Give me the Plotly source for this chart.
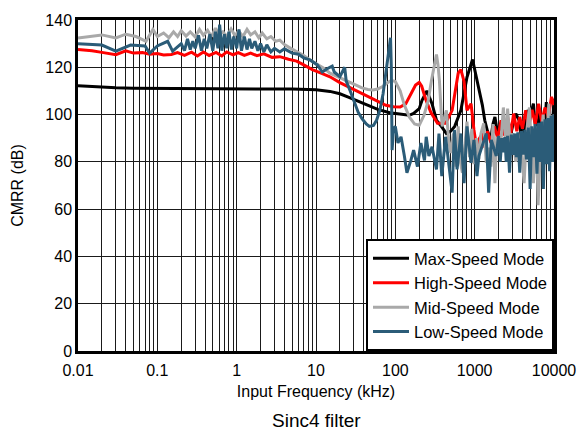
import plotly.graph_objects as go

# ---------------- data ----------------
series_names = ["Max-Speed Mode", "High-Speed Mode", "Mid-Speed Mode", "Low-Speed Mode"]

max_f = [0.01, 0.015, 0.02, 0.03, 0.05, 0.1, 0.2, 0.5, 1, 2, 5, 7, 10, 15, 20, 26, 35, 47, 60, 85, 110,
         150, 170, 200, 217, 250, 290, 330, 380, 440, 500, 560, 670, 800, 940, 1050, 1130, 1250, 1340,
         1450, 1590, 1700, 1800, 1950, 2100, 2300, 2500, 2700, 3000, 3300, 3700, 4000, 4500, 5000,
         5500, 6000, 6600, 7200, 8000, 9000, 10000]
max_v = [112.2, 111.8, 111.5, 111.3, 111.1, 111.0, 110.9, 110.9, 110.8, 110.8, 110.8, 110.7, 110.5,
         109.8, 108.8, 107.3, 105.5, 103.5, 102.2, 100.8, 100.2, 99.7, 100.5, 102.5, 106.0, 110.0, 104.6,
         97.6, 95.0, 92.0, 93.0, 95.0, 101.8, 115.8, 123.3, 115.8, 111.7, 104.0, 97.6, 93.0, 89.3,
         96.0, 99.0, 92.0, 94.9, 98.0, 96.0, 88.0, 95.0, 100.4, 97.0, 85.0, 101.8, 99.0, 104.6, 90.0,
         102.0, 78.0, 105.3, 80.0, 106.7]

high_f = [0.01, 0.015, 0.02, 0.03, 0.04, 0.05, 0.065, 0.08, 0.1, 0.12, 0.15, 0.18, 0.22, 0.27, 0.32,
          0.38, 0.45, 0.55, 0.65, 0.75, 0.9, 1.05, 1.25, 1.5, 1.8, 2.2, 2.8, 3.5, 4.5, 5.7, 7, 9, 12,
          15, 20, 26, 35, 47, 60, 76, 95, 115, 135, 157, 180, 200, 215, 240, 280, 340, 430, 520, 570,
          620, 670, 735, 800, 900, 980, 1070, 1150, 1250, 1350, 1450, 1600, 1770, 1950, 2150, 2400,
          2600, 2850, 3100, 3400, 3700, 4000, 4400, 4800, 5300, 5800, 6400, 7000, 7700, 8500, 9300,
          10000]
high_v = [127.5, 127.0, 126.3, 125.3, 127.0, 126.0, 126.2, 125.5, 125.8, 125.2, 125.4, 126.2, 125.0,
          126.4, 124.8, 126.5, 125.0, 126.3, 124.8, 126.5, 125.3, 126.2, 125.0, 126.0, 124.9, 125.7,
          124.2, 124.5, 123.4, 122.6, 121.0, 119.0, 117.3, 116.0, 113.5, 111.6, 109.5, 107.4, 105.5,
          103.9, 103.3, 103.2, 104.5, 108.8, 112.5, 113.6, 112.0, 106.7, 101.0, 96.3, 96.3, 101.8,
          110.0, 117.5, 119.0, 114.0, 101.8, 104.6, 93.5, 85.0, 90.0, 92.0, 86.0, 93.0, 88.0, 95.0,
          90.0, 97.6, 91.0, 99.0, 92.0, 100.4, 93.0, 99.0, 94.0, 101.8, 95.0, 102.0, 96.0, 104.6,
          97.0, 103.0, 99.0, 107.5, 104.0]

mid_f = [0.01, 0.02, 0.03, 0.04, 0.054, 0.072, 0.088, 0.1, 0.12, 0.14, 0.16, 0.18, 0.2, 0.23, 0.26,
         0.3, 0.34, 0.38, 0.43, 0.48, 0.54, 0.6, 0.67, 0.75, 0.85, 0.95, 1.06, 1.2, 1.35, 1.5, 1.7,
         1.9, 2.1, 2.4, 2.7, 3.1, 3.5, 4, 4.8, 5.8, 7, 8.5, 10, 12.7, 15, 20, 26, 32, 38, 45, 52, 60,
         70, 80, 89, 100, 115, 130, 150, 175, 200, 230, 260, 285, 310, 330, 345, 360, 380, 390, 410,
         440, 470, 500, 540, 580, 620, 660, 700, 750, 800, 860, 920, 980, 1050, 1130, 1200, 1300,
         1400, 1500, 1600, 1700, 1800, 1900, 2100, 2300, 2500, 2600, 2800, 3000, 3300, 3600, 3900,
         4200, 4500, 4900, 5200, 5500, 6000, 6300, 6800, 7300, 7800, 8300, 8600, 9200, 10000]
mid_v = [132.4, 133.7, 132.4, 134.0, 133.0, 131.0, 136.0, 133.0, 134.5, 132.5, 135.0, 133.0, 135.5,
         133.2, 135.0, 132.8, 136.0, 133.5, 135.6, 133.0, 136.5, 133.8, 135.0, 133.0, 136.2, 133.5,
         135.3, 133.0, 136.0, 133.7, 135.0, 132.5, 134.5, 132.0, 133.0, 131.0, 131.5, 129.6, 128.0,
         126.5, 125.0, 123.0, 121.5, 119.5, 117.5, 115.5, 113.7, 112.3, 111.3, 110.6, 110.4, 110.8,
         112.0, 113.5, 114.5, 114.0, 110.0, 104.0, 99.0, 96.0, 95.5, 99.7, 106.0, 114.3, 121.0, 125.4,
         121.0, 114.0, 100.0, 95.0, 98.0, 101.8, 89.3, 83.7, 92.0, 78.0, 95.0, 80.0, 75.4, 88.0, 97.0,
         82.0, 94.0, 79.0, 90.0, 81.0, 92.0, 96.3, 79.6, 86.0, 78.0, 96.0, 71.0, 90.6, 84.0, 103.0,
         86.0, 102.5, 88.0, 92.0, 80.0, 90.0, 85.0, 71.0, 92.0, 103.0, 85.0, 71.0, 95.0, 61.7, 88.0,
         100.0, 80.0, 97.0, 104.6, 85.0, 100.0]

low_f = [0.01, 0.02, 0.03, 0.046, 0.07, 0.08, 0.1, 0.135, 0.156, 0.18, 0.2, 0.22, 0.24, 0.26, 0.28,
         0.3, 0.33, 0.36, 0.39, 0.42, 0.46, 0.5, 0.54, 0.58, 0.61, 0.65, 0.7, 0.75, 0.8, 0.86, 0.92,
         1, 1.07, 1.15, 1.25, 1.35, 1.45, 1.55, 1.7, 1.85, 2, 2.2, 2.4, 2.7, 3, 3.5, 4, 5, 6, 7, 8.5,
         10.4, 12, 14, 16, 17, 20, 23, 24, 27, 30, 34, 38, 43, 47, 53, 58, 64, 70, 78, 84, 87, 89, 91,
         95, 100, 108, 118, 130, 140, 157, 170, 190, 210, 233, 245, 265, 290, 330, 355, 385, 430, 470,
         520, 555, 600, 670, 735, 800, 900, 980, 1070, 1130, 1250, 1400, 1500, 1620, 1870, 2000, 2100,
         2200, 2300, 2400, 2500, 2600, 2750, 2900, 3050, 3200, 3350, 3500, 3700, 3900, 4100, 4300,
         4500, 4750, 5000, 5250, 5500, 5800, 6100, 6400, 6700, 7000, 7350, 7700, 8050, 8400, 8800,
         9200, 9600, 10000]
low_v = [130.0, 129.4, 126.8, 129.4, 129.0, 126.0, 129.0, 131.0, 126.8, 128.5, 130.0, 127.0, 132.0,
         127.5, 131.0, 128.0, 133.5, 127.0, 132.0, 128.0, 134.0, 127.0, 135.0, 128.0, 138.0, 127.0,
         134.0, 128.0, 135.0, 127.5, 133.0, 128.0, 136.0, 127.0, 133.0, 127.5, 132.0, 128.0, 131.0,
         127.0, 130.0, 126.5, 129.5, 126.5, 128.0, 126.5, 127.8, 126.0, 125.5, 124.0, 123.0, 121.0,
         118.0, 119.5, 120.5, 118.0, 116.0, 120.0, 114.3, 110.0, 106.0, 101.0, 98.3, 96.0, 95.0, 95.4,
         97.6, 102.0, 108.7, 121.0, 130.0, 132.5, 120.0, 85.0, 94.0, 95.0, 88.0, 90.6, 82.5, 75.4,
         80.6, 85.0, 78.0, 88.0, 80.6, 90.6, 82.5, 86.4, 76.8, 92.0, 74.0, 90.6, 79.6, 67.0, 93.5,
         76.8, 92.0, 71.0, 95.0, 79.6, 89.3, 74.0, 82.5, 86.6, 92.0, 67.0, 89.3, 82.5, 91.0, 80.0,
         90.0, 84.0, 90.5, 80.0, 91.0, 75.4, 91.5, 83.0, 92.0, 82.0, 92.5, 75.4, 93.0, 83.0, 93.5,
         81.0, 94.5, 68.5, 95.0, 82.0, 96.0, 75.0, 96.5, 80.0, 97.0, 68.5, 98.0, 79.0, 98.5, 76.0,
         99.5, 80.0, 100.0, 78.0, 101.5]

x_ticks = [0.01, 0.1, 1, 10, 100, 1000, 10000]
x_tick_text = ["0.01", "0.1", "1", "10", "100", "1000", "10000"]
y_ticks = [0, 20, 40, 60, 80, 100, 120, 140]

colors = ["#000000", "#FF0000", "#A9A9A9", "#2B5C78"]
xs = [max_f, high_f, mid_f, low_f]
ys = [max_v, high_v, mid_v, low_v]

fig = go.Figure()
for name, c, x, y in zip(series_names, colors, xs, ys):
    fig.add_trace(go.Scatter(x=x, y=y, mode="lines", name=name,
                             line=dict(color=c, width=3)))

font_family = "Liberation Sans, Arial, sans-serif"
fig.update_layout(
    width=588, height=436,
    margin=dict(l=78, r=33, t=15, b=85),
    paper_bgcolor="white", plot_bgcolor="white",
    font=dict(family=font_family, color="black", size=16),
    showlegend=True,
    legend=dict(x=1, y=0, xanchor="right", yanchor="bottom",
                bordercolor="black", borderwidth=2, bgcolor="white",
                font=dict(size=16.5), itemwidth=36, tracegroupgap=0),
    annotations=[dict(text="Sinc4 filter", xref="paper", yref="paper",
                      x=0.502, y=-0.21, xanchor="center", yanchor="middle",
                      showarrow=False, font=dict(size=19))],
)
fig.update_xaxes(type="log", range=[-2, 4], tickvals=x_ticks, ticktext=x_tick_text,
                 showgrid=True, gridcolor="#1a1a1a", gridwidth=1,
                 minor=dict(showgrid=True, dtick="D1", gridcolor="#1a1a1a", gridwidth=1, ticks=""),
                 showline=True, linecolor="black", linewidth=2.5, mirror=True,
                 ticks="", zeroline=False, ticklabelstandoff=3,
                 title=dict(text="Input Frequency (kHz)", standoff=8, font=dict(size=16)))
fig.update_yaxes(range=[0, 140], tickvals=y_ticks, showgrid=True, gridcolor="#1a1a1a", gridwidth=1,
                 showline=True, linecolor="black", linewidth=2.5, mirror=True,
                 ticks="", zeroline=False,
                 title=dict(text="CMRR (dB)", standoff=18, font=dict(size=16)))

fig.write_html("out.html", post_script="document.body.style.margin='0';",
               config={"displayModeBar": False})
